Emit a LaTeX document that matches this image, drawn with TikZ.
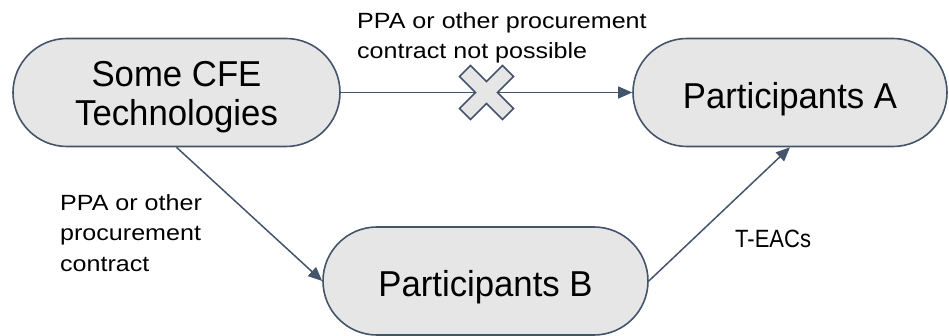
\documentclass[tikz,border=0pt]{standalone}
\usepackage{fontspec}
\setmainfont{Liberation Sans}
\newfontfamily\boxfont[FakeStretch=0.965]{Liberation Sans}
\newfontfamily\notefont[FakeStretch=1.14]{Liberation Sans}
\newfontfamily\tagfont[FakeStretch=0.88]{Liberation Sans}
\usetikzlibrary{arrows.meta,calc}

\definecolor{edgeblue}{HTML}{44546A}
\definecolor{boxgray}{HTML}{E7E6E6}

\tikzset{
  party/.style={draw=edgeblue, fill=boxgray, line width=1.6pt,
    rounded corners=54pt, minimum height=108pt, align=center,
    inner sep=0pt, text height=39pt,
    font=\boxfont\fontsize{36}{39}\selectfont},
  flow/.style={draw=edgeblue, line width=1.5pt,
    -{Triangle[length=14pt,width=12pt]}},
  note/.style={inner sep=0pt, align=left, anchor=north west,
    font=\notefont\fontsize{22}{30.5}\selectfont},
  blocked/.style={draw=edgeblue, fill=boxgray, line width=1.5pt, line join=miter}
}

\begin{document}
\begin{tikzpicture}[x=1pt, y=-1pt]
  \useasboundingbox (0,0) rectangle (949,336);

  % the three parties
  \node[party, minimum width=327pt, text height=73pt] (cfe) at (176.5,92.5) {Some CFE\\Technologies};
  \node[party, minimum width=314pt] (pa)  at (790,92.5)   {Participants A};
  \node[party, minimum width=325pt] (pb)  at (485.5,281)  {Participants B};

  % direct procurement route, blocked
  \draw[flow] (cfe.east) -- (pa.west);
  \coordinate (stop) at ($(cfe.east)!0.5!(pa.west)$);
  \draw[blocked] (stop) ++(0,-11) -- ++(16,-16) -- ++(11,11) -- ++(-16,16)
    -- ++(16,16) -- ++(-11,11) -- ++(-16,-16) -- ++(-16,16) -- ++(-11,-11)
    -- ++(16,-16) -- ++(-16,-16) -- ++(11,-11) -- cycle;

  % route through participants B
  \draw[flow] (cfe.south) -- (pb.west);
  \draw[flow] (pb.east) -- (pa.south);

  % labels
  \node[note] (ntop) at (357,12) {PPA or other procurement\\contract not possible};
  \node[note] (nleft) at (60,194) {PPA or other\\procurement\\contract};
  \node[inner sep=0pt, anchor=base west, font=\tagfont\fontsize{25}{30}\selectfont]
    (ntag) at (735,248) {T-EACs};
\end{tikzpicture}
\end{document}
